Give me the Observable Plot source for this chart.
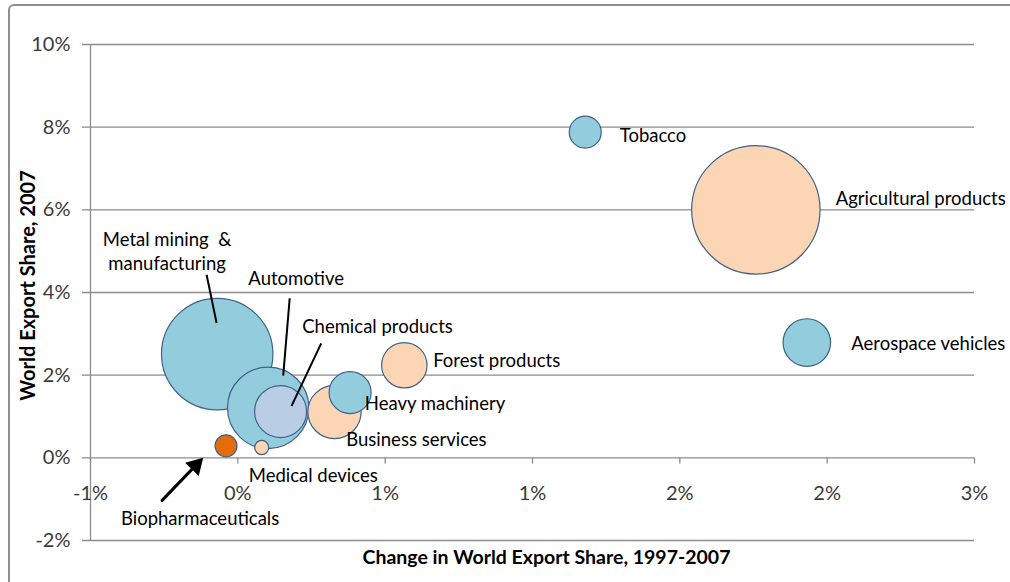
<!DOCTYPE html>
<html>
<head>
<meta charset="utf-8">
<script src="https://cdn.jsdelivr.net/npm/d3@7"></script>
<script src="https://cdn.jsdelivr.net/npm/@observablehq/plot@0.6"></script>
<style>
  html, body { margin: 0; padding: 0; background: #fff; overflow: hidden; width: 1010px; height: 582px; }
  #frame { position: absolute; left: 8px; top: 4px; width: 1200px; height: 800px; border: 2.5px solid #8e8e8e; border-radius: 6px; }
  #chart { position: absolute; left: 0; top: 0; }
</style>
</head>
<body>
<div id="frame"></div>
<div id="chart"></div>
<script>
// Data (x: change in world export share 1997-2007, %; y: world export share 2007, %; size: relative bubble size)
const sectors = ["Metal mining & manufacturing", "Automotive", "Chemical products", "Business services",
  "Heavy machinery", "Forest products", "Tobacco", "Agricultural products", "Aerospace vehicles",
  "Medical devices", "Biopharmaceuticals"];
const changeShare = [-0.070, 0.103, 0.145, 0.328, 0.381, 0.565, 1.179, 1.758, 1.931, 0.081, -0.040];
const exportShare = [2.51, 1.21, 1.12, 1.11, 1.58, 2.24, 7.88, 6.00, 2.79, 0.25, 0.29];
const bubbleSize = [75.3, 40.2, 16.4, 17.2, 10.7, 12.5, 6.2, 100, 13.7, 1.2, 2.9];
const bubbleColor = ["#93cddd", "#93cddd", "#b9cde5", "#fcd5b5", "#93cddd", "#fcd5b5", "#93cddd",
  "#fcd5b5", "#93cddd", "#fcd5b5", "#e46c0a"];

// Label texts and anchor positions (data units)
const labelText = ["Metal mining  &\nmanufacturing", "Automotive", "Chemical products", "Business services",
  "Heavy machinery", "Forest products", "Tobacco", "Agricultural products", "Aerospace vehicles",
  "Medical devices", "Biopharmaceuticals"];
const labelX = [-0.240, 0.198, 0.474, 0.368, 0.431, 0.663, 1.296, 2.029, 2.082, 0.037, -0.128];
const labelY = [5.02, 4.36, 3.20, 0.42, 1.29, 2.34, 7.78, 6.25, 2.76, -0.43, -1.45];
const labelAnchor = ["middle", "middle", "middle", "start", "start", "start", "start", "start", "start", "start", "middle"];

// Leader lines (from label to bubble)
const leaderX1 = [-0.106, 0.176, 0.283];
const leaderY1 = [4.43, 3.86, 2.77];
const leaderX2 = [-0.072, 0.154, 0.182];
const leaderY2 = [3.26, 1.99, 1.25];

// Arrow for Biopharmaceuticals
const arrowX1 = [-0.257], arrowY1 = [-1.03], arrowX2 = [-0.121], arrowY2 = [-0.02];

// Axis ticks
const xTicks = [-0.5, 0, 0.5, 1.0, 1.5, 2.0, 2.5];
const xTickLabels = ["-1%", "0%", "1%", "1%", "2%", "2%", "3%"];
const yTicks = [-2, 0, 2, 4, 6, 8, 10];
const yTickLabels = ["-2%", "0%", "2%", "4%", "6%", "8%", "10%"];

const bubbles = sectors.map((s, i) => ({sector: s, x: changeShare[i], y: exportShare[i], size: bubbleSize[i], color: bubbleColor[i]}));
const labels = labelText.map((t, i) => ({text: t, x: labelX[i], y: labelY[i], anchor: labelAnchor[i]}));
const leaders = leaderX1.map((d, i) => ({x1: leaderX1[i], y1: leaderY1[i], x2: leaderX2[i], y2: leaderY2[i]}));
const arrows = arrowX1.map((d, i) => ({x1: arrowX1[i], y1: arrowY1[i], x2: arrowX2[i], y2: arrowY2[i]}));

const FONT = "Lato, 'Open Sans', sans-serif";

const chart = Plot.plot({
  width: 1010,
  height: 582,
  marginLeft: 90,
  marginRight: 36,
  marginTop: 44,
  marginBottom: 42,
  style: {fontFamily: FONT, background: "transparent", overflow: "visible"},
  x: {domain: [-0.5, 2.5], axis: null},
  y: {domain: [-2, 10], axis: null},
  r: {type: "sqrt", domain: [0, 100], range: [0, 64.2]},
  marks: [
    // horizontal gridlines (extend left as tick marks)
    Plot.ruleY(yTicks, {y: d => d, stroke: "#8c8c8c", strokeWidth: 1.3, insetLeft: -8}),
    // vertical axis line
    Plot.ruleX([-0.5], {x: d => d, y1: -2, y2: 10, stroke: "#8c8c8c", strokeWidth: 1.3}),
    // x-axis tick marks at y = 0
    Plot.ruleX(xTicks, {x: d => d, y1: 0, y2: -0.15, stroke: "#8c8c8c", strokeWidth: 1.3}),
    // y tick labels
    Plot.text(yTicks, {x: -0.5, y: d => d, text: (d, i) => yTickLabels[i], textAnchor: "end", dx: -20, fontSize: 20, fill: "#3a3a3a"}),
    // x tick labels
    Plot.text(xTicks, {x: d => d, y: 0, text: (d, i) => xTickLabels[i], textAnchor: "middle", dy: 36, fontSize: 20, fill: "#3a3a3a"}),
    // bubbles
    Plot.dot(bubbles, {x: "x", y: "y", r: "size", fill: "color", fillOpacity: 1, stroke: "#3e6189", strokeWidth: 1.2}),
    // leader lines
    Plot.link(leaders, {x1: "x1", y1: "y1", x2: "x2", y2: "y2", stroke: "#000", strokeWidth: 2}),
    // arrow: shaft plus filled head
    Plot.arrow(arrows, {x1: "x1", y1: "y1", x2: "x2", y2: "y2", stroke: "#000", strokeWidth: 3, headLength: 0, insetEnd: 10}),
    Plot.dot(arrows, {x: "x2", y: "y2", symbol: "triangle2", r: 9, fill: "#000", stroke: "none", rotate: 44, dx: -6.5, dy: 6.8}),
    // labels
    Plot.text(labels.filter(d => d.anchor === "start"), {x: "x", y: "y", text: "text", textAnchor: "start", fontSize: 18.5, fill: "#000"}),
    Plot.text(labels.filter(d => d.anchor === "middle"), {x: "x", y: "y", text: "text", textAnchor: "middle", fontSize: 18.5, fill: "#000", lineHeight: 1.28}),
    // axis titles
    Plot.text(["Change in World Export Share, 1997-2007"], {frameAnchor: "bottom", text: d => d, textAnchor: "middle", lineAnchor: "middle", dx: 14, dy: 17, fontSize: 19.5, fontWeight: "bold", fill: "#000"}),
    Plot.text(["World Export Share, 2007"], {frameAnchor: "left", text: d => d, textAnchor: "middle", lineAnchor: "middle", rotate: -90, dx: -62, dy: -7, fontSize: 20, fontWeight: "bold", fill: "#000"})
  ]
});
document.getElementById("chart").appendChild(chart);
</script>
</body>
</html>
